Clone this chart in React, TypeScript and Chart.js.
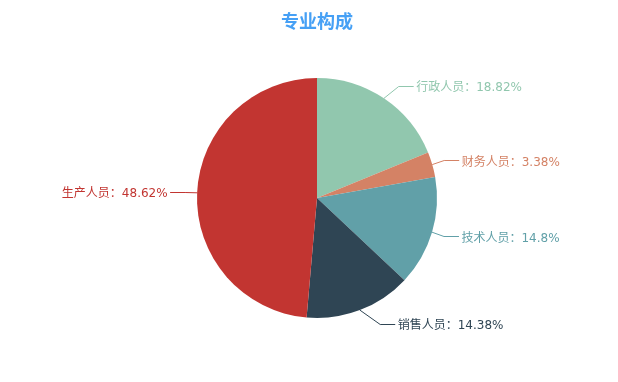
import React, { useEffect, useRef } from "react";
import { Chart, registerables } from "chart.js";

Chart.register(...registerables);

const categories = ["行政人员", "财务人员", "技术人员", "销售人员", "生产人员"];
const values = [18.82, 3.38, 14.8, 14.38, 48.62];
const colors = ["#91c7ae", "#d48265", "#61a0a8", "#2f4554", "#c23531"];
const titleText = "专业构成";

const FONT = '"DejaVu Sans", "Noto Sans CJK SC", sans-serif';

const labelPlugin = {
  id: "pieOuterLabels",
  afterDatasetsDraw(chart: any) {
    const ctx = chart.ctx;
    const meta = chart.getDatasetMeta(0);
    const len1 = 15;
    const len2 = 15;
    ctx.save();
    ctx.font = `12px ${FONT}`;
    ctx.textBaseline = "middle";
    meta.data.forEach((arc: any, i: number) => {
      const { x: cx, y: cy, startAngle, endAngle, outerRadius: r } = arc.getProps(
        ["x", "y", "startAngle", "endAngle", "outerRadius"],
        true
      );
      const mid = (startAngle + endAngle) / 2;
      const dx = Math.cos(mid);
      const dy = Math.sin(mid);
      const x1 = cx + r * dx;
      const y1 = cy + r * dy;
      const y2 = cy + (r + len1) * dy;
      const dir = dx < 0 ? -1 : 1;
      const R = r + len1 + len2;
      const deltaY = Math.abs(y2 - cy);
      const deltaX = Math.sqrt(Math.max(R * R - deltaY * deltaY, 0));
      const textX = cx + dir * deltaX;
      const x3 = textX - dir * 3;
      const x2 = x3 - dir * len2;
      const ly = Math.round(y2) + 0.5;
      const color = colors[i];
      ctx.strokeStyle = color;
      ctx.lineWidth = 1;
      ctx.beginPath();
      ctx.moveTo(x1, y1);
      ctx.lineTo(x2, ly);
      ctx.lineTo(x3, ly);
      ctx.stroke();
      ctx.fillStyle = color;
      ctx.textAlign = dir < 0 ? "right" : "left";
      ctx.fillText(`${categories[i]}：${values[i]}%`, textX - dir * 0.5, y2 + 2);
    });
    ctx.restore();
  },
};

export default function App() {
  const ref = useRef<HTMLCanvasElement | null>(null);
  useEffect(() => {
    document.body.style.margin = "0";
    const canvas = ref.current!;
    const chart = new Chart(canvas, {
      type: "pie",
      data: {
        labels: categories,
        datasets: [
          {
            data: values,
            backgroundColor: colors,
            borderWidth: 0,
          },
        ],
      },
      options: {
        responsive: false,
        animation: false,
        layout: { padding: { top: 78, bottom: 64, left: 197, right: 181 } },
        plugins: {
          legend: { display: false },
          tooltip: { enabled: false },
          title: { display: false },
        },
      },
      plugins: [
        labelPlugin,
        {
          id: "topTitle",
          afterDraw(c: any) {
            const ctx = c.ctx;
            ctx.save();
            ctx.font = `bold 18px "Noto Sans CJK SC", ${FONT}`;
            ctx.fillStyle = "#46a0f5";
            ctx.textAlign = "center";
            ctx.textBaseline = "middle";
            ctx.fillText(titleText, 317, 21);
            ctx.restore();
          },
        },
      ],
    });
    return () => chart.destroy();
  }, []);
  return (
    <div style={{ width: 618, height: 382 }}>
      <canvas ref={ref} width={618} height={382} style={{ display: "block" }} />
    </div>
  );
}
